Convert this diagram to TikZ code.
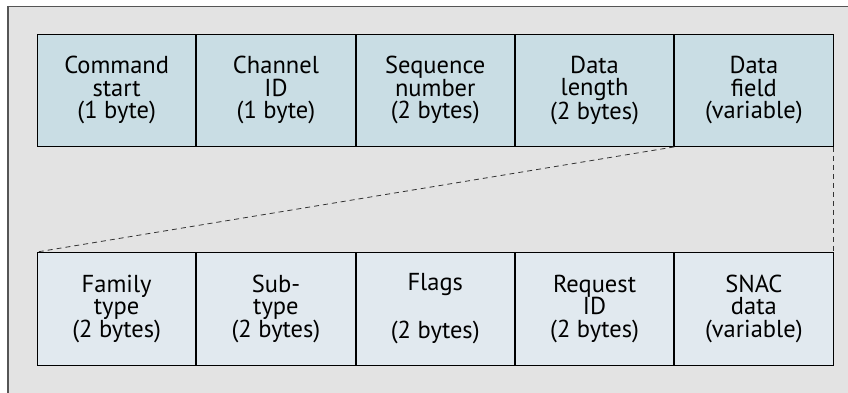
\documentclass[tikz,border=0pt]{standalone}
\usepackage{fontspec}
\setmainfont{PT Sans}
\definecolor{bg}{HTML}{E3E3E3}
\definecolor{topfill}{HTML}{C9DDE4}
\definecolor{botfill}{HTML}{E1E9EF}
\definecolor{frame}{HTML}{555555}
\begin{document}
\begin{tikzpicture}[x=1pt,y=-1pt,
  field/.style={draw=black,line width=0.9pt,minimum width=158.4pt,minimum height=112pt,inner sep=0pt,align=center,anchor=north west,font=\fontsize{24.5}{22.5}\selectfont},
  topf/.style={field,fill=topfill},
  botf/.style={field,fill=botfill,minimum height=113pt},
  conn/.style={line width=0.8pt,dash pattern=on 5pt off 4pt,black!80}]
\useasboundingbox (0,0) rectangle (848,393);
\fill[white] (0,0) rectangle (848,393);
\fill[bg] (7,6) rectangle (848,393);
\draw[frame,line width=1pt] (848,6.5) -- (7.5,6.5);
\draw[frame,line width=2pt] (8,6) -- (8,393);
% top row
\node[topf] (a1) at (37,34) {Command\\start\\(1 byte)};
\node[topf] (a2) at (a1.north east) {Channel\\ID\\(1 byte)};
\node[topf] (a3) at (a2.north east) {Sequence\\number\\(2 bytes)};
\node[topf] (a4) at (a3.north east) {Data\\length\\(2 bytes)};
\node[topf] (a5) at (a4.north east) {Data\\field\\(variable)};
% bottom row
\node[botf] (b1) at (37,252) {Family\\type\\(2 bytes)};
\node[botf] (b2) at (b1.north east) {Sub-\\type\\(2 bytes)};
\node[botf] (b3) at (b2.north east) {Flags\\\strut\\(2 bytes)};
\node[botf] (b4) at (b3.north east) {Request\\ID\\(2 bytes)};
\node[botf] (b5) at (b4.north east) {SNAC\\data\\(variable)};
\draw[conn] (a5.south west) -- (b1.north west);
\draw[conn] (a5.south east) -- (b5.north east);
\end{tikzpicture}
\end{document}
